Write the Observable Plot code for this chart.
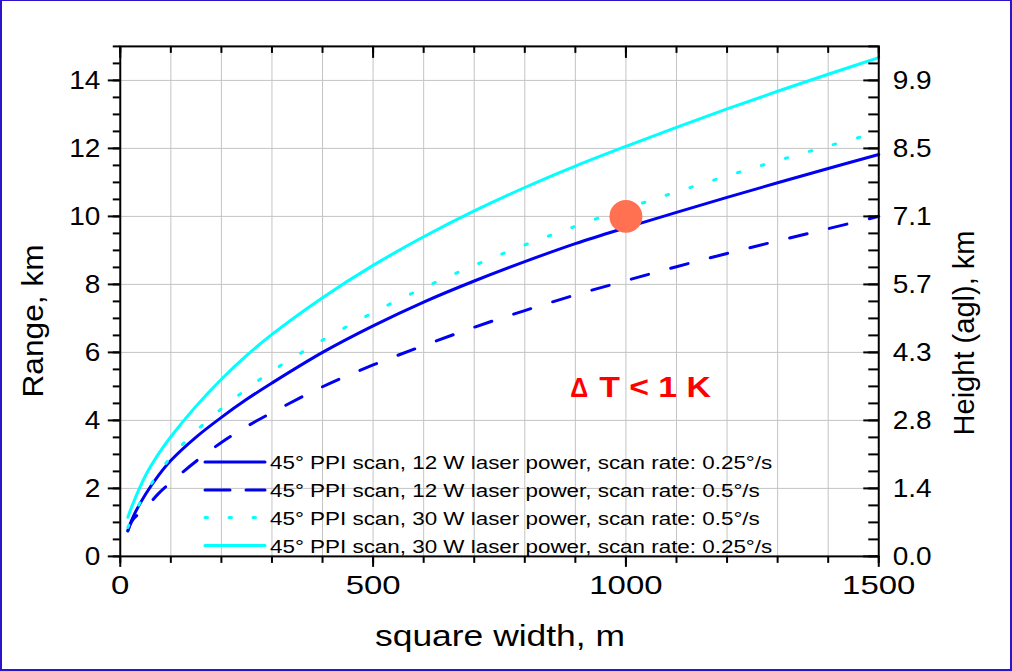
<!DOCTYPE html>
<html><head><meta charset="utf-8">
<script src="https://cdn.jsdelivr.net/npm/d3@7"></script>
<script src="https://cdn.jsdelivr.net/npm/@observablehq/plot@0.6"></script>
<style>
html,body{margin:0;padding:0;background:#fff;}
#wrap{position:relative;width:1012px;height:671px;box-sizing:border-box;border:2px solid #2b14cc;border-top-width:1px;overflow:hidden;background:#fff;}
#chart{position:absolute;left:-2px;top:-1px;}
#overlay{position:absolute;left:-2px;top:-1px;}
</style></head><body>
<div id="wrap"><div id="chart"></div><svg id="overlay" width="1012" height="671"></svg></div>
<script>
// ---- data ----
const widths      = [15, 25, 50, 75, 100, 150, 200, 250, 300, 400, 500, 600, 700, 800, 900, 1000, 1100, 1200, 1300, 1400, 1500];
const range12W025 = [0.75, 1.15, 1.83, 2.37, 2.82, 3.51, 4.09, 4.62, 5.1, 6.0, 6.78, 7.48, 8.1, 8.67, 9.2, 9.67, 10.12, 10.56, 10.99, 11.41, 11.82];
const range12W05  = [0.75, 1.08, 1.42, 1.84, 2.18, 2.8, 3.35, 3.82, 4.23, 4.99, 5.63, 6.2, 6.74, 7.23, 7.69, 8.11, 8.52, 8.91, 9.28, 9.64, 10.0];
const range30W05  = [0.85, 1.17, 1.87, 2.42, 2.92, 3.69, 4.34, 4.92, 5.45, 6.36, 7.17, 7.9, 8.56, 9.16, 9.71, 10.23, 10.72, 11.19, 11.64, 12.07, 12.48];
const range30W025 = [1.15, 1.55, 2.38, 3.0, 3.52, 4.42, 5.21, 5.91, 6.53, 7.61, 8.56, 9.4, 10.16, 10.85, 11.48, 12.06, 12.62, 13.16, 13.68, 14.18, 14.67];
const seriesNames = [
  "45° PPI scan, 12 W laser power, scan rate: 0.25°/s",
  "45° PPI scan, 12 W laser power, scan rate: 0.5°/s",
  "45° PPI scan, 30 W laser power, scan rate: 0.5°/s",
  "45° PPI scan, 30 W laser power, scan rate: 0.25°/s"
];
const markerX = [1000], markerY = [10];
const xMajor = [0, 500, 1000, 1500];
const xMinor = d3.range(0, 1501, 100);
const yMajor = [0, 2, 4, 6, 8, 10, 12, 14];
const yMinor = d3.range(0, 15.01, 0.5);
const heightLabels = ["0.0", "1.4", "2.8", "4.3", "5.7", "7.1", "8.5", "9.9"];
const annText = ["Δ", "T < 1 K"], annX = [890, 947], annY = [4.69, 4.69];
const xTitle = "square width, m", yTitle = "Range, km", y2Title = "Height (agl), km";

// ---- styles ----
const W = 1012, H = 671, mL = 120, mR = 132, mT = 46, mB = 114;
const innerW = W - mL - mR, innerH = H - mT - mB;
const FONT = "'Liberation Sans', Arial, Helvetica, sans-serif";
const BLUE = "#0000f2", CYAN = "#00ffff";
const styles = [
  {stroke: BLUE, dash: null, legDash: null},
  {stroke: BLUE, dash: "18,23", legDash: "25,16"},
  {stroke: CYAN, dash: "2.5,22.5", legDash: "2.5,21.5"},
  {stroke: CYAN, dash: null, legDash: null}
];
const allSeries = [range12W025, range12W05, range30W05, range30W025];

const lineMarks = allSeries.map((vals, k) => Plot.line(widths.map((w, i) => ({w, r: vals[i]})), {
  x: "w", y: "r", stroke: styles[k].stroke, strokeWidth: 3, curve: "catmull-rom",
  strokeDasharray: styles[k].dash, strokeLinecap: "round"
}));

const hideText = () => "";
const chart = Plot.plot({
  width: W, height: H,
  marginLeft: mL, marginRight: mR, marginTop: mT, marginBottom: mB,
  style: {fontFamily: FONT, color: "#000", background: "transparent"},
  x: {domain: [0, 1500]},
  y: {domain: [0, 15]},
  marks: [
    Plot.gridX(xMinor.slice(1, -1), {stroke: "#c4c4c4", strokeOpacity: 1, strokeWidth: 1}),
    Plot.gridY(yMajor.slice(1), {stroke: "#c4c4c4", strokeOpacity: 1, strokeWidth: 1}),
    ...lineMarks,
    Plot.dot(markerX.map((x, i) => ({x, y: markerY[i]})), {x: "x", y: "y", r: 16.5, fill: "#ff7150", stroke: null}),
    Plot.text([0], {x: () => annX[0], y: () => annY[0], text: () => annText[0], fill: "#ff0000", fontSize: 28, fontWeight: "bold", textAnchor: "start", lineAnchor: "bottom"}),
    Plot.text([0], {x: () => annX[1], y: () => annY[1], text: () => annText[1], fill: "#ff0000", fontSize: 30, fontWeight: "bold", textAnchor: "start", lineAnchor: "bottom"}),
    Plot.frame({stroke: "#000", strokeWidth: 2}),
    // left axis
    Plot.axisY(yMajor, {anchor: "left", tickSize: 12, tickPadding: 8, fontSize: 26, strokeWidth: 2, label: null}),
    Plot.axisY(yMinor, {anchor: "left", tickSize: 7, tickFormat: hideText, strokeWidth: 2, label: null}),
    // bottom axis
    Plot.axisX(xMajor, {anchor: "bottom", tickSize: 11, tickPadding: 8, fontSize: 26, strokeWidth: 2, label: null, tickFormat: d => String(d)}),
    Plot.axisX(xMinor, {anchor: "bottom", tickSize: 7, tickFormat: hideText, strokeWidth: 2, label: null}),
    // top ticks (inward)
    Plot.tickX(xMinor, {x: d => d, insetBottom: innerH - 7, stroke: "#000", strokeWidth: 2}),
    Plot.tickX(xMajor, {x: d => d, insetBottom: innerH - 12, stroke: "#000", strokeWidth: 2}),
    // right ticks (inward) + height labels
    Plot.tickY(yMinor, {y: d => d, insetLeft: innerW - 10, stroke: "#000", strokeWidth: 2}),
    Plot.tickY(yMajor, {y: d => d, insetLeft: innerW - 15, stroke: "#000", strokeWidth: 2}),
    Plot.axisY(yMajor, {anchor: "right", tickSize: 0, tickPadding: 14, fontSize: 26, label: null,
      tickFormat: d => heightLabels[yMajor.indexOf(d)]})
  ]
});
document.getElementById("chart").appendChild(chart);

// ---- overlay: legend and axis titles ----
const ov = d3.select("#overlay");
const rowY = [462, 490, 517.5, 545.5];
seriesNames.forEach((name, k) => {
  ov.append("line").attr("x1", 205).attr("x2", 265).attr("y1", rowY[k]).attr("y2", rowY[k])
    .attr("stroke", styles[k].stroke).attr("stroke-width", 3).attr("stroke-linecap", "round")
    .attr("stroke-dasharray", styles[k].legDash);
  ov.append("text").attr("x", 270).attr("y", rowY[k] + 7).attr("font-family", FONT)
    .attr("font-size", 17.5).attr("fill", "#000").attr("class", "legtext").text(name);
});
function title(txt, x, y, rot, len) {
  ov.append("text").attr("transform", `translate(${x},${y}) rotate(${rot})`)
    .attr("text-anchor", "middle").attr("font-family", FONT).attr("font-size", 29)
    .attr("fill", "#000").attr("textLength", len).attr("lengthAdjust", "spacingAndGlyphs").text(txt);
}
title(yTitle, 43, 321, -90, 153);
title(y2Title, 974, 333, -90, 205);
title(xTitle, 500, 646, 0, 250);

// horizontal stretch of text to match the reference's wide lettering
function stretch(nodes, f) {
  nodes.forEach(n => {
    const L = n.getComputedTextLength();
    if (L > 0) { n.setAttribute("textLength", L * f); n.setAttribute("lengthAdjust", "spacingAndGlyphs"); }
  });
}
function fit(node, target) { node.setAttribute("textLength", target); node.setAttribute("lengthAdjust", "spacingAndGlyphs"); }
stretch(document.querySelectorAll("#overlay text.legtext"), 1.28);
stretch(chart.querySelectorAll('g[aria-label="x-axis tick label"] text'), 1.27);
stretch(chart.querySelectorAll('g[aria-label="y-axis tick label"] text'), 1.08);
chart.querySelectorAll("text").forEach(n => {
  if (n.textContent === annText[0]) fit(n, 18);
  if (n.textContent === annText[1]) fit(n, 112);
});
</script>
</body></html>
